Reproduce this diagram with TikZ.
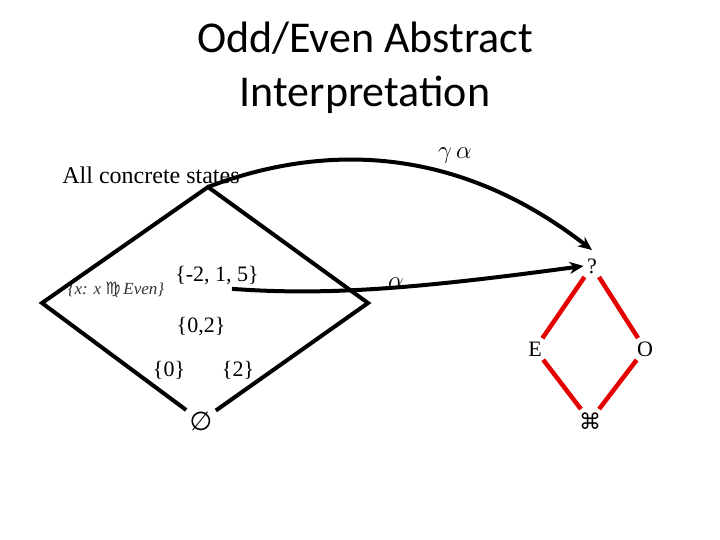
\documentclass[tikz,border=0pt]{standalone}
\usepackage{fontspec}
\setmainfont{Liberation Serif}
\newfontfamily\titlefont{Carlito}
\newfontfamily\symbolfont{DejaVu Sans}
\usetikzlibrary{arrows.meta}
\tikzset{
  lattice/.style={line width=4pt},
  abslattice/.style={line width=4.5pt,red!90!black},
  mapto/.style={line width=4pt,-{Stealth[length=14pt,width=12pt]}}
}
\begin{document}
\begin{tikzpicture}[x=1pt,y=-1pt,font=\fontsize{22}{26}\selectfont]
  \useasboundingbox (0,0) rectangle (720,540);
  % 标题
  \node[font=\titlefont\fontsize{44}{54}\selectfont,align=center] (title) at (365,68) {Odd/Even Abstract\\Interpretation};
  % 具体格
  \coordinate (top) at (208,187);
  \coordinate (lft) at (42,303);
  \coordinate (rgt) at (368,303);
  \node[font=\fontsize{24}{28}\selectfont] (all) at (151,175) {All concrete states};
  \node[font=\itshape\fontsize{17}{20}\selectfont,text=black!80] (evenset) at (116,290) {\{x: x\ {\symbolfont\upshape ♍}\,Even\}};
  \node (s125) at (217,276) {\{-2, 1, 5\}};
  \node (s02) at (201,327) {\{0,2\}};
  \node (s0) at (169,370) {\{0\}};
  \node (s2) at (238,370) {\{2\}};
  \node[font=\symbolfont\fontsize{26}{30}\selectfont] (empty) at (201,421) {∅};
  \draw[lattice] (empty) -- (lft) -- (top) -- (rgt) -- (empty);
  % 抽象格
  \node (ttop) at (592,266) {?};
  \node (even) at (535,349) {E};
  \node (odd) at (645,349) {O};
  \node[font=\symbolfont\fontsize{22}{26}\selectfont] (bot) at (590,421) {⌘};
  \draw[abslattice] (ttop) -- (even);
  \draw[abslattice] (even) -- (bot);
  \draw[abslattice] (ttop) -- (odd);
  \draw[abslattice] (odd) -- (bot);
  % 抽象映射
  \draw[mapto] ([xshift=15pt]s125.south) .. controls (330,296) and (420,288) .. (ttop.west);
  \node[font=\fontsize{24}{28}\selectfont] (alpha) at (396,283) {$\alpha$};
  \draw[mapto] (top) .. controls (300,152) and (440,132) .. ([yshift=5pt]ttop.north);
  \node[font=\fontsize{24}{28}\selectfont] (gamalpha) at (455,156) {$\gamma\,\alpha$};
\end{tikzpicture}
\end{document}
